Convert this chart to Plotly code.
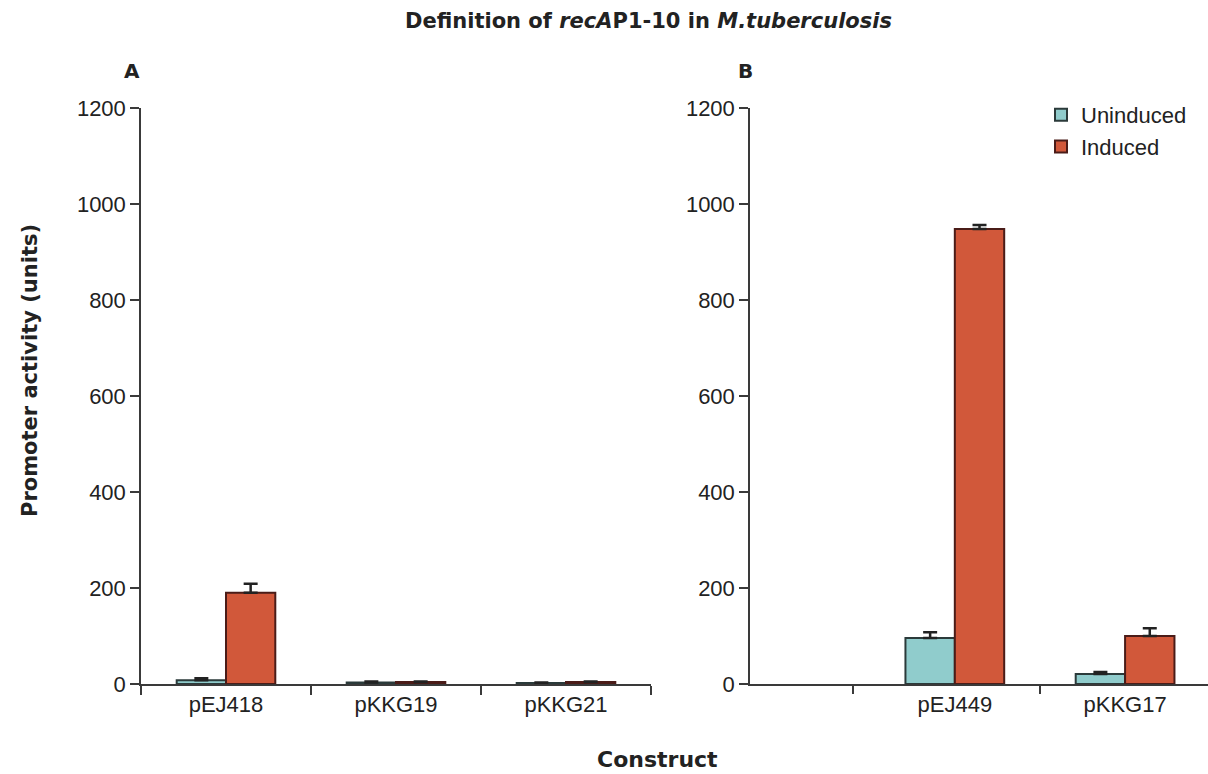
import plotly.graph_objects as go

# Panel A data
cats_a = ["pEJ418", "pKKG19", "pKKG21"]
unind_a = [8, 3, 2]
unind_a_err = [4, 2, 1]
ind_a = [190, 4, 4]
ind_a_err = [19, 1, 1]

# Panel B data (first slot is empty)
cats_b = [" ", "pEJ449", "pKKG17"]
unind_b = [None, 96, 21]
unind_b_err = [0, 12, 4]
ind_b = [None, 948, 100]
ind_b_err = [0, 8, 16]

y_ticks = [0, 200, 400, 600, 800, 1000, 1200]
b_tick_pos = [0.4, 1.5]

C_UN = "#90cccc"
C_UN_LINE = "#2b3a3a"
C_IN = "#d1583a"
C_IN_LINE = "#4a1c18"
AXC = "#3a3a3a"
TXT = "#222222"
FONT = "Liberation Sans, Arial, sans-serif"
BFONT = "DejaVu Sans, Liberation Sans, sans-serif"

W, H = 1208, 774
TOP, BOT = 108, 90
PH = H - TOP - BOT

fig = go.Figure()


def add_bars(x, y, err, name, color, lcolor, xa, ya, show):
    fig.add_trace(go.Bar(
        x=x, y=y, name=name,
        marker=dict(color=color, line=dict(color=lcolor, width=2)),
        error_y=dict(type="data", array=err, arrayminus=[0] * len(err), symmetric=False,
                     color="#222222", thickness=2.5, width=7),
        xaxis=xa, yaxis=ya, showlegend=show, offsetgroup=name))


add_bars(cats_a, unind_a, unind_a_err, "Uninduced", C_UN, C_UN_LINE, "x", "y", True)
add_bars(cats_a, ind_a, ind_a_err, "Induced", C_IN, C_IN_LINE, "x", "y", True)
add_bars(cats_b, unind_b, unind_b_err, "Uninduced", C_UN, C_UN_LINE, "x2", "y2", False)
add_bars(cats_b, ind_b, ind_b_err, "Induced", C_IN, C_IN_LINE, "x2", "y2", False)
# carrier for the tick-only overlay axis of panel B
fig.add_trace(go.Scatter(x=[None], y=[None], xaxis="x3", yaxis="y2", showlegend=False,
                         hoverinfo="skip", mode="markers"))

axis_common = dict(showline=True, linecolor=AXC, linewidth=1.5, ticks="outside",
                   tickcolor=AXC, tickwidth=1.5, ticklen=9, showgrid=False, zeroline=False,
                   automargin=False, tickfont=dict(family=FONT, size=22, color=TXT))

rng_b = [-0.203, 2.487]

fig.update_layout(
    width=W, height=H,
    margin=dict(l=0, r=0, t=TOP, b=BOT),
    paper_bgcolor="white", plot_bgcolor="white",
    barmode="group", bargap=0.42, bargroupgap=0,
    font=dict(family=FONT, color=TXT),
    xaxis=dict(domain=[141 / W, 651 / W], type="category", categoryorder="array",
               categoryarray=cats_a, range=[-0.5, 2.5], tickson="boundaries", anchor="y",
               **axis_common),
    yaxis=dict(domain=[0, 1], range=[0, 1200], tickvals=y_ticks, anchor="x", **axis_common),
    xaxis2=dict(domain=[750 / W, 1.0], type="category", categoryorder="array",
                categoryarray=cats_b, range=rng_b, anchor="y2",
                **{**axis_common, "ticks": ""}),
    xaxis3=dict(overlaying="x2", type="linear", range=rng_b, anchor="y2", side="bottom",
                tickvals=b_tick_pos, showticklabels=False, ticks="outside", tickcolor=AXC,
                tickwidth=1.5, ticklen=9, showline=False, showgrid=False, zeroline=False,
                automargin=False),
    yaxis2=dict(domain=[0, 1], range=[0, 1200], tickvals=y_ticks, anchor="x2", **axis_common),
    legend=dict(x=1041 / W, y=1 + 14 / PH, xanchor="left", yanchor="top",
                font=dict(family=FONT, size=22, color=TXT), bgcolor="rgba(0,0,0,0)",
                itemwidth=30, tracegroupgap=0),
    showlegend=True,
)

annots = [
    dict(text="<b>Definition of <i>recA</i>P1-10 in <i>M.tuberculosis</i></b>", x=648, y=21, size=21, rot=0),
    dict(text="<b>A</b>", x=132, y=71, size=20, rot=0),
    dict(text="<b>B</b>", x=745, y=71, size=20, rot=0),
    dict(text="<b>Construct</b>", x=657, y=759, size=22, rot=0),
    dict(text="<b>Promoter activity (units)</b>", x=30, y=371, size=21, rot=-90),
]
for a in annots:
    fig.add_annotation(text=a["text"], x=a["x"] / W, y=(H - BOT - a["y"]) / PH,
                       xref="paper", yref="paper", xanchor="center", yanchor="middle",
                       showarrow=False, textangle=a["rot"],
                       font=dict(family=BFONT, size=a["size"], color=TXT))

fig.write_html("out.html")
